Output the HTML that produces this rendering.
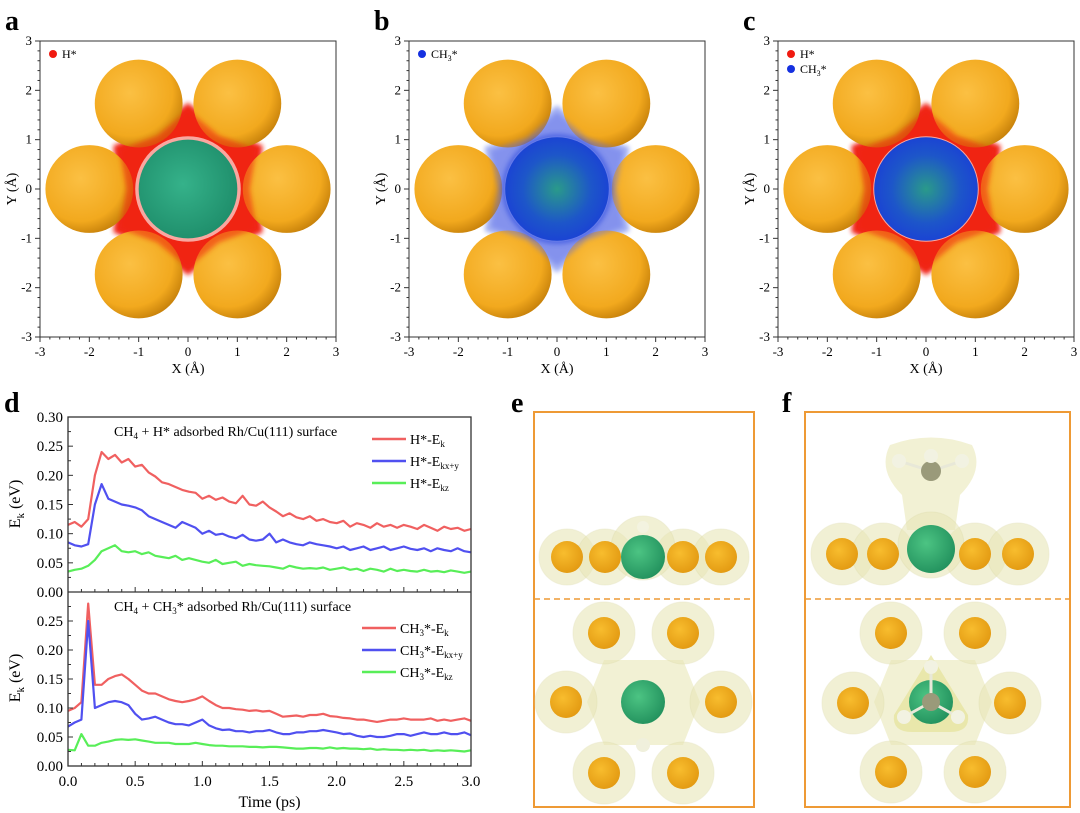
<!DOCTYPE html>
<html><head><meta charset="utf-8"><style>
body{margin:0;background:#fff;width:1080px;height:813px;overflow:hidden}
svg{display:block;font-family:"Liberation Serif",serif}
</style></head><body>
<svg id="fig" width="1080" height="813" viewBox="0 0 1080 813">
<defs>
<radialGradient id="gold" cx="40%" cy="38%" r="65%"><stop offset="0" stop-color="#fbc043"/><stop offset="0.75" stop-color="#f2a91e"/><stop offset="1" stop-color="#c9830b"/></radialGradient>
<radialGradient id="green" cx="45%" cy="45%" r="60%"><stop offset="0" stop-color="#35b28a"/><stop offset="1" stop-color="#1e8d6a"/></radialGradient>
<radialGradient id="blueg" cx="50%" cy="50%" r="55%"><stop offset="0" stop-color="#2a9a8a"/><stop offset="0.6" stop-color="#1d56c9"/><stop offset="1" stop-color="#1a3fd6"/></radialGradient>
<radialGradient id="ball" cx="40%" cy="38%" r="65%"><stop offset="0" stop-color="#f8bd2e"/><stop offset="1" stop-color="#e39a12"/></radialGradient>
<radialGradient id="gball" cx="40%" cy="38%" r="65%"><stop offset="0" stop-color="#4cc483"/><stop offset="1" stop-color="#23925e"/></radialGradient>
<filter id="blur3"><feGaussianBlur stdDeviation="2.5"/></filter>
</defs>
<g id="topPanels"></g>
<g id="chart"></g>
<g id="struct"></g>
</svg>
<script>
const NS="http://www.w3.org/2000/svg";
function mk(p,tag,attrs,txt){const e=document.createElementNS(NS,tag);for(const k in attrs)e.setAttribute(k,attrs[k]);if(txt!==undefined)e.textContent=txt;p.appendChild(e);return e;}

// ---- chart d data ----
const hEk=[0.115,0.12,0.112,0.125,0.20,0.24,0.228,0.235,0.222,0.228,0.215,0.218,0.205,0.198,0.188,0.185,0.18,0.175,0.172,0.17,0.16,0.165,0.158,0.162,0.155,0.152,0.165,0.15,0.148,0.155,0.145,0.138,0.13,0.135,0.128,0.125,0.13,0.122,0.125,0.12,0.118,0.122,0.112,0.118,0.115,0.11,0.118,0.112,0.115,0.11,0.115,0.112,0.108,0.115,0.11,0.105,0.112,0.108,0.11,0.105,0.108];
const hExy=[0.085,0.08,0.078,0.082,0.15,0.185,0.16,0.155,0.15,0.148,0.145,0.14,0.13,0.125,0.12,0.115,0.11,0.12,0.115,0.11,0.1,0.105,0.098,0.1,0.095,0.092,0.098,0.09,0.088,0.09,0.1,0.085,0.09,0.085,0.082,0.08,0.085,0.082,0.08,0.078,0.075,0.078,0.072,0.075,0.078,0.072,0.075,0.078,0.072,0.075,0.078,0.074,0.072,0.075,0.07,0.075,0.072,0.07,0.075,0.07,0.068];
const hEz=[0.035,0.038,0.04,0.045,0.055,0.07,0.075,0.08,0.07,0.068,0.07,0.065,0.068,0.062,0.06,0.058,0.062,0.055,0.058,0.055,0.052,0.05,0.055,0.048,0.05,0.052,0.045,0.048,0.046,0.045,0.044,0.042,0.04,0.045,0.042,0.04,0.041,0.04,0.042,0.038,0.04,0.042,0.038,0.04,0.036,0.04,0.038,0.035,0.04,0.036,0.038,0.036,0.035,0.038,0.035,0.036,0.034,0.037,0.035,0.033,0.035];
const cEk=[0.095,0.1,0.11,0.28,0.14,0.14,0.15,0.155,0.158,0.15,0.14,0.13,0.125,0.125,0.12,0.115,0.112,0.11,0.112,0.115,0.12,0.112,0.105,0.1,0.1,0.098,0.097,0.095,0.096,0.094,0.095,0.09,0.085,0.086,0.087,0.085,0.088,0.088,0.09,0.086,0.085,0.083,0.082,0.08,0.08,0.078,0.076,0.078,0.08,0.08,0.082,0.08,0.08,0.08,0.082,0.078,0.08,0.078,0.08,0.082,0.078];
const cExy=[0.068,0.075,0.08,0.25,0.1,0.105,0.11,0.112,0.11,0.105,0.09,0.08,0.082,0.085,0.08,0.075,0.072,0.072,0.07,0.075,0.08,0.07,0.065,0.062,0.063,0.06,0.06,0.058,0.06,0.06,0.062,0.058,0.055,0.055,0.058,0.058,0.06,0.06,0.062,0.06,0.058,0.055,0.056,0.052,0.05,0.052,0.05,0.05,0.052,0.055,0.055,0.052,0.055,0.058,0.055,0.055,0.058,0.055,0.055,0.058,0.053];
const cEz=[0.028,0.027,0.055,0.035,0.035,0.04,0.042,0.045,0.046,0.045,0.046,0.044,0.042,0.04,0.04,0.04,0.038,0.038,0.038,0.04,0.038,0.036,0.035,0.035,0.034,0.034,0.034,0.033,0.033,0.032,0.033,0.033,0.032,0.031,0.03,0.03,0.031,0.031,0.03,0.032,0.03,0.031,0.03,0.03,0.029,0.03,0.028,0.029,0.028,0.028,0.027,0.028,0.027,0.028,0.026,0.027,0.026,0.027,0.026,0.025,0.027];
const xTicks=["0.0","0.5","1.0","1.5","2.0","2.5","3.0"];
const yTicksTop=["0.00","0.05","0.10","0.15","0.20","0.25","0.30"];
const yTicksBot=["0.00","0.05","0.10","0.15","0.20","0.25"];
const tMax=3.0;

// ---- top panels a,b,c ----
const topPanels=document.getElementById('topPanels');
const panels=[{x0:40,lab:"a",type:"h"},{x0:409,lab:"b",type:"c"},{x0:778,lab:"c",type:"hc"}];
const axTicks=[-3,-2,-1,0,1,2,3];
panels.forEach(p=>{
  const g=mk(topPanels,'g',{});
  
  
  const W=296,y0=41,s=W/6,cx=p.x0+W/2,cy=y0+W/2;
  const X=v=>cx+v*s, Y=v=>cy-v*s;
  const lab=mk(g,'text',{x:p.x0-35,y:30,'font-size':28,'font-weight':'bold'},p.lab);
  
  
  function star(rOut,rIn,fill,op){
    let pts=[];for(let k=0;k<12;k++){const a=(k*30+30)*Math.PI/180;const r=k%2==0?rOut:rIn;pts.push((cx+r*s*Math.cos(a)).toFixed(1)+","+(cy-r*s*Math.sin(a)).toFixed(1));}
    return mk(g,'polygon',{points:pts.join(" "),fill:fill,opacity:op,filter:'url(#blur3)'});}
  if(p.type!="c"){const e=star(1.75,1.4,'#f01a10',0.95);}
  if(p.type=="c"){const e=star(1.7,1.3,'#8c9cf0',0.8);}
  for(let k=0;k<6;k++){const a=k*60*Math.PI/180;const c=mk(g,'circle',{cx:X(2*Math.cos(a)),cy:Y(2*Math.sin(a)),r:0.89*s,fill:'url(#gold)'});
    }
  // overlay of cloud dots over sphere edges
  if(p.type!="c"){star(1.6,1.25,'#f02010',0.55);}
  else{star(1.55,1.2,'#6070e8',0.45);}
  mk(g,'circle',{cx:cx,cy:cy,r:1.07*s,fill:'#fff',opacity:p.type=="c"?0.25:0.6});
  if(p.type=="c"){mk(g,'circle',{cx:cx,cy:cy,r:1.12*s,fill:'#3050e0',opacity:0.6,filter:'url(#blur3)'});}
  const rh=mk(g,'circle',{cx:cx,cy:cy,r:(p.type=="h"?1.0:1.05)*s,fill:p.type=="h"?'url(#green)':'url(#blueg)'});
  
  const fr=mk(g,'rect',{x:p.x0,y:y0,width:W,height:W,fill:'none',stroke:'#333','stroke-width':1});
  
  for(let i=0;i<=30;i++){const v=-3+i*0.2;const big=i%5==0;const Lt=big?5:2.5;
    mk(g,'line',{x1:X(v),x2:X(v),y1:y0+W,y2:y0+W+Lt,stroke:'#333'});
    mk(g,'line',{x1:p.x0,x2:p.x0-Lt,y1:Y(v),y2:Y(v),stroke:'#333'});}
  axTicks.forEach(v=>{
    const t=mk(g,'text',{x:X(v),y:y0+W+19,'font-size':13,'text-anchor':'middle'},String(v));
    
    const u=mk(g,'text',{x:p.x0-8,y:Y(v)+4,'font-size':13,'text-anchor':'end'},String(v));
    });
  const xt=mk(g,'text',{x:cx,y:y0+W+36,'font-size':14,'text-anchor':'middle'},"X (Å)");
  
  const yt=mk(g,'text',{x:0,y:0,'font-size':14,'text-anchor':'middle',transform:`translate(${p.x0-24},${cy}) rotate(-90)`},"Y (Å)");
  
  const leg=[];if(p.type!="c")leg.push(["#f01a10","H*",""]);if(p.type!="h")leg.push(["#1530e0","CH","3"]);
  leg.forEach((l,i)=>{const lg=mk(g,'g',{});
    mk(lg,'circle',{cx:p.x0+13,cy:y0+13+i*15,r:4,fill:l[0]});
    const t=mk(lg,'text',{x:p.x0+22,y:y0+17+i*15,'font-size':12},l[1]);
    if(l[2]){mk(t,'tspan',{'font-size':8,dy:3},l[2]);mk(t,'tspan',{dy:-3},"*");}});
});

// ---- chart d ----
const chartG=document.getElementById('chart');
const PL=68,PR=471,topY=417,midY=592,botY=766;
const xS=t=>PL+(PR-PL)*t/tMax;
const yTop=v=>midY-(midY-topY)*v/0.30;
const yBot=v=>botY-(botY-midY)*v/0.30;
const dl=mk(chartG,'text',{x:4,y:412,'font-size':28,'font-weight':'bold'},"d");

function series(arr,yf,col,name){let d="";arr.forEach((v,i)=>{d+=(i?"L":"M")+xS(i*tMax/(arr.length-1)).toFixed(1)+","+yf(v).toFixed(1);});
  const p=mk(chartG,'path',{d:d,fill:'none',stroke:col,'stroke-width':2.2,'stroke-linejoin':'round'});
  }
const RED="#f06060",BLUE="#5050f0",GREEN="#58ee58";
series(hEk,yTop,RED,'series-h-ek');series(hExy,yTop,BLUE,'series-h-ekxy');series(hEz,yTop,GREEN,'series-h-ekz');
series(cEk,yBot,RED,'series-ch3-ek');series(cExy,yBot,BLUE,'series-ch3-ekxy');series(cEz,yBot,GREEN,'series-ch3-ekz');
const f1=mk(chartG,'rect',{x:PL,y:topY,width:PR-PL,height:botY-topY,fill:'none',stroke:'#333','stroke-width':1.3});

mk(chartG,'line',{x1:PL,x2:PR,y1:midY,y2:midY,stroke:'#333','stroke-width':1.3});
for(let i=0;i<=30;i++){const t=i*0.1,big=i%5==0;
  mk(chartG,'line',{x1:xS(t),x2:xS(t),y1:botY,y2:botY-(big?5:3),stroke:'#333'});
  mk(chartG,'line',{x1:xS(t),x2:xS(t),y1:midY,y2:midY-(big?5:3),stroke:'#333'});}
xTicks.forEach(s=>{const t=mk(chartG,'text',{x:xS(parseFloat(s)),y:botY+20,'font-size':15,'text-anchor':'middle'},s);
  });
yTicksTop.forEach(s=>{const v=parseFloat(s);mk(chartG,'line',{x1:PL,x2:PL+5,y1:yTop(v),y2:yTop(v),stroke:'#333'});
  if(v<0.3)mk(chartG,'line',{x1:PL,x2:PL+3,y1:yTop(v+0.025),y2:yTop(v+0.025),stroke:'#333'});
  const t=mk(chartG,'text',{x:PL-5,y:yTop(v)+5,'font-size':15,'text-anchor':'end'},s);});
yTicksBot.forEach(s=>{const v=parseFloat(s);mk(chartG,'line',{x1:PL,x2:PL+5,y1:yBot(v),y2:yBot(v),stroke:'#333'});
  mk(chartG,'line',{x1:PL,x2:PL+3,y1:yBot(v+0.025),y2:yBot(v+0.025),stroke:'#333'});
  const t=mk(chartG,'text',{x:PL-5,y:yBot(v)+5,'font-size':15,'text-anchor':'end'},s);});
const xtt=mk(chartG,'text',{x:(PL+PR)/2,y:807,'font-size':16,'text-anchor':'middle'},"Time (ps)");

[[504,'y-axis-title-top'],[678,'y-axis-title-bottom']].forEach(a=>{
  const t=mk(chartG,'text',{x:0,y:0,'font-size':16,'text-anchor':'middle',transform:`translate(20,${a[0]}) rotate(-90)`},"E");
  mk(t,'tspan',{'font-size':11,dy:4},"k");mk(t,'tspan',{dy:-4}," (eV)");
  });
function title(y,sub,post){const t=mk(chartG,'text',{x:114,y:y,'font-size':14},"CH");mk(t,'tspan',{'font-size':9,dy:3},"4");mk(t,'tspan',{dy:-3},sub);
  if(post){mk(t,'tspan',{'font-size':9,dy:3},"3");mk(t,'tspan',{dy:-3},post);}return t;}
let tt=title(436," + H* adsorbed Rh/Cu(111) surface");
tt=title(611," + CH","* adsorbed Rh/Cu(111) surface");
function legend(x,y,col,pre,sub,ch3){const g=mk(chartG,'g',{});
  mk(g,'line',{x1:x,x2:x+34,y1:y,y2:y,stroke:col,'stroke-width':2.5});
  const t=mk(g,'text',{x:x+38,y:y+5,'font-size':14},pre);
  if(ch3){mk(t,'tspan',{'font-size':9,dy:3},"3");mk(t,'tspan',{dy:-3},"*-E");}
  mk(t,'tspan',{'font-size':9,dy:3},sub);}
legend(372,439,RED,"H*-E","k");legend(372,461,BLUE,"H*-E","kx+y");legend(372,483,GREEN,"H*-E","kz");
legend(362,628,RED,"CH","k",1);legend(362,650,BLUE,"CH","kx+y",1);legend(362,672,GREEN,"CH","kz",1);

// ---- structures e,f ----
const st=document.getElementById('struct');
function glow(g,x,y,r){mk(g,'circle',{cx:x,cy:y,r:r,fill:'#e9e7b8',opacity:0.6,stroke:'#d8d6a0','stroke-opacity':0.5});}
function ball(g,x,y,r,f,name){const c=mk(g,'circle',{cx:x,cy:y,r:r,fill:f});}
function box(x0,x1,lab){const g=mk(st,'g',{});
  const r=mk(g,'rect',{x:x0,y:412,width:x1-x0,height:395,fill:'none',stroke:'#ee9a35','stroke-width':2});
  
  const d=mk(g,'line',{x1:x0,x2:x1,y1:599,y2:599,stroke:'#ee9a35','stroke-width':1.5,'stroke-dasharray':'6,4'});
  
  const t=mk(g,'text',{x:x0-23,y:412,'font-size':28,'font-weight':'bold'},lab);
  return g;}
let sg=box(534,754,"e");
const eTop=[567,605,683,721];
eTop.forEach(x=>glow(sg,x,557,28));glow(sg,643,548,32);
eTop.forEach(x=>ball(sg,x,557,16,'url(#ball)','cu-atom'));
ball(sg,643,557,22,'url(#gball)','rh-atom');ball(sg,643,527,6,'#f3f3e0','h-atom');
const hexE=[[604,633],[683,633],[566,702],[721,702],[604,773],[683,773]];
mk(sg,'polygon',{points:"604,660 683,660 700,702 683,745 604,745 587,702",fill:'#e9e7b8',opacity:0.6});
hexE.forEach(p=>glow(sg,p[0],p[1],31));
hexE.forEach(p=>ball(sg,p[0],p[1],16,'url(#ball)','cu-atom'));
ball(sg,643,702,22,'url(#gball)','rh-atom');ball(sg,643,745,7,'#f0f0dc','h-atom');
sg=box(805,1070,"f");
mk(sg,'path',{d:"M890,445 Q931,430 972,445 Q985,470 960,495 L955,530 L907,530 L902,495 Q877,470 890,445Z",fill:'#e9e7b8',opacity:0.6});
const fTop=[842,883,975,1018];
fTop.forEach(x=>glow(sg,x,554,31));glow(sg,931,545,33);
fTop.forEach(x=>ball(sg,x,554,16,'url(#ball)','cu-atom'));
ball(sg,931,549,24,'url(#gball)','rh-atom');
[[899,461],[962,461],[931,458]].forEach(h=>{mk(sg,'line',{x1:931,y1:471,x2:h[0],y2:h[1],stroke:'#e8e8d8','stroke-width':3});});
ball(sg,931,471,10,'#9a9a7a','c-atom');
[[899,461],[962,461],[931,456]].forEach(h=>ball(sg,h[0],h[1],7,'#f2f2e2','h-atom'));
const hexF=[[891,633],[975,633],[853,703],[1010,703],[891,772],[975,772]];
mk(sg,'polygon',{points:"891,660 975,660 992,702 975,745 891,745 874,702",fill:'#e9e7b8',opacity:0.6});
hexF.forEach(p=>glow(sg,p[0],p[1],31));
hexF.forEach(p=>ball(sg,p[0],p[1],16,'url(#ball)','cu-atom'));
mk(sg,'path',{d:"M931,655 L968,715 Q970,732 950,732 L912,732 Q892,732 894,715Z",fill:'#e6e39a',opacity:0.7});
ball(sg,931,702,22,'url(#gball)','rh-atom');
[[931,667],[904,717],[958,717]].forEach(h=>mk(sg,'line',{x1:931,y1:702,x2:h[0],y2:h[1],stroke:'#e8e8d8','stroke-width':3}));
ball(sg,931,702,9,'#9a9a7a','c-atom');
[[931,667],[904,717],[958,717]].forEach(h=>ball(sg,h[0],h[1],7,'#f2f2e2','h-atom'));
</script>
</body></html>
